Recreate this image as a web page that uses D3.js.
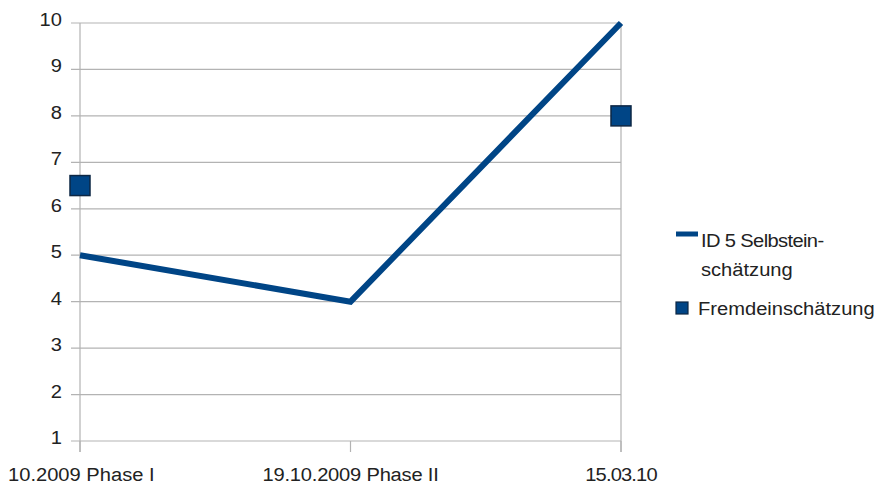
<!DOCTYPE html>
<html>
<head>
<meta charset="utf-8">
<script src="https://cdn.jsdelivr.net/npm/d3@7"></script>
<style>
  html, body { margin: 0; padding: 0; background: #fff; }
  svg text { font-family: "Liberation Sans", Arial, sans-serif; fill: #222; }
</style>
</head>
<body>
<svg id="chart" width="891" height="487"></svg>
<script>
// Measurement dates (categories)
const categories = ["10.2009 Phase I", "19.10.2009 Phase II", "15.03.10"];
// Self assessment (line series)
const selfValues = [5, 4, 10];
// External assessment (points; only first and last dates)
const externalValues = [6.5, null, 8];
// Value axis ticks
const yTicks = [1, 2, 3, 4, 5, 6, 7, 8, 9, 10];
const seriesNames = ["ID 5 Selbstein-", "schätzung", "Fremdeinschätzung"];

const svg = d3.select("#chart");
const plotLeft = 80, plotRight = 621, plotTop = 23, plotBottom = 441;
const navy = "#004586";
const grid = "#b3b3b3";
const fontSize = 19, stretch = 1.06;

const x = d3.scalePoint().domain(categories).range([plotLeft, plotRight]);
const y = d3.scaleLinear().domain([1, 10]).range([plotBottom, plotTop]);

// Places a slightly widened label at (px, py)
function label(parent, px, py, str, anchor, spacing) {
  return parent.append("text")
    .attr("transform", `translate(${px},${py}) scale(${stretch},1)`)
    .attr("text-anchor", anchor || "start")
    .attr("font-size", fontSize)
    .attr("letter-spacing", spacing || 0)
    .text(str);
}

// Horizontal grid lines with left tick stubs
svg.append("g").selectAll("line").data(yTicks).join("line")
  .attr("x1", plotLeft - 9).attr("x2", plotRight)
  .attr("y1", d => y(d)).attr("y2", d => y(d))
  .attr("stroke", grid).attr("stroke-width", 1.2);

// Y tick labels
const yl = svg.append("g");
yTicks.forEach(d => label(yl, plotLeft - 18, y(d) + 3, d, "end"));

// Vertical axis lines at both ends and category ticks
svg.append("line").attr("x1", plotLeft).attr("x2", plotLeft).attr("y1", plotTop).attr("y2", plotBottom + 11)
  .attr("stroke", grid).attr("stroke-width", 1.2);
svg.append("line").attr("x1", plotRight).attr("x2", plotRight).attr("y1", plotTop).attr("y2", plotBottom + 11)
  .attr("stroke", grid).attr("stroke-width", 1.2);
svg.append("g").selectAll("line").data(categories).join("line")
  .attr("x1", d => x(d)).attr("x2", d => x(d))
  .attr("y1", plotBottom).attr("y2", plotBottom + 11)
  .attr("stroke", grid).attr("stroke-width", 1.2);

// Category labels (first one runs off the left edge)
const xl = svg.append("g");
categories.forEach((c, i) => {
  if (i === 0) label(xl, 8, 481, c, "start");
  else label(xl, x(c), 481, c, "middle", i === 2 ? -0.8 : -0.2);
});

// Self assessment line
svg.append("path")
  .datum(categories.map((c, i) => [c, selfValues[i]]))
  .attr("fill", "none").attr("stroke", navy).attr("stroke-width", 6)
  .attr("stroke-linejoin", "miter")
  .attr("d", d3.line().x(d => x(d[0])).y(d => y(d[1])));

// External assessment squares
const sq = 20;
svg.append("g").selectAll("rect")
  .data(categories.map((c, i) => [c, externalValues[i]]).filter(d => d[1] != null))
  .join("rect")
  .attr("x", d => x(d[0]) - sq / 2).attr("y", d => y(d[1]) - sq / 2)
  .attr("width", sq).attr("height", sq)
  .attr("fill", navy).attr("stroke", "#0d2744").attr("stroke-width", 1.5);

// Legend
const lg = svg.append("g");
lg.append("line").attr("x1", 676).attr("x2", 698).attr("y1", 234).attr("y2", 234)
  .attr("stroke", navy).attr("stroke-width", 5);
label(lg, 701, 247, seriesNames[0], "start", -0.6);
label(lg, 701, 276, seriesNames[1]);
lg.append("rect").attr("x", 676).attr("y", 302).attr("width", 12).attr("height", 12)
  .attr("fill", navy).attr("stroke", "#0d2744").attr("stroke-width", 1.2);
label(lg, 698, 315, seriesNames[2]);
</script>
</body>
</html>
